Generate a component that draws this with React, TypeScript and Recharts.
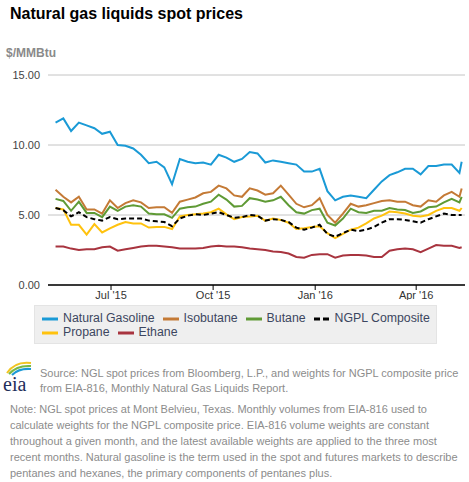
import { LineChart, Line, XAxis, YAxis, CartesianGrid } from 'recharts';

// day offsets counted from 2015-05-01
const DAYS = [11, 18, 25, 32, 39, 46, 53, 60, 67, 74, 81, 88, 95, 102, 109, 116, 123, 130, 137, 144, 151, 158, 165, 172, 179, 186, 193, 200, 207, 214, 221, 228, 235, 242, 249, 256, 263, 270, 277, 284, 291, 298, 305, 312, 319, 326, 333, 340, 347, 354, 361, 368, 375, 377];

const NATURAL_GASOLINE = [11.6, 11.9, 11.0, 11.6, 11.4, 11.2, 10.8, 10.95, 10.0, 9.95, 9.75, 9.3, 8.7, 8.8, 8.4, 7.2, 9.0, 8.8, 8.7, 8.75, 8.6, 9.3, 9.1, 8.8, 9.0, 9.5, 9.4, 8.75, 8.9, 8.8, 8.7, 8.6, 8.1, 8.1, 8.3, 6.7, 6.05, 6.3, 6.4, 6.3, 6.2, 6.8, 7.4, 7.85, 8.05, 8.3, 8.3, 7.9, 8.5, 8.5, 8.6, 8.6, 8.0, 8.8];
const ISOBUTANE = [6.8, 6.3, 5.9, 6.3, 5.4, 5.4, 5.1, 6.05, 5.5, 5.85, 6.05, 5.9, 5.5, 5.55, 5.55, 5.15, 5.95, 6.1, 6.25, 6.55, 6.65, 7.1, 6.9, 6.4, 6.3, 6.9, 6.75, 6.45, 6.55, 7.1, 6.45, 5.8, 5.55, 5.7, 6.2, 5.0, 4.45, 5.1, 5.8, 5.6, 5.7, 5.85, 6.0, 6.05, 5.95, 5.95, 5.7, 5.6, 6.05, 5.95, 6.4, 6.65, 6.3, 6.9];
const BUTANE = [6.15, 6.0, 5.3, 5.95, 5.15, 5.15, 4.85, 5.6, 5.3, 5.6, 5.7, 5.6, 5.1, 5.05, 5.05, 4.8, 5.45, 5.55, 5.6, 5.8, 5.95, 6.45, 6.1, 5.6, 5.65, 6.2, 6.1, 5.95, 6.05, 6.3, 5.7, 5.2, 5.1, 5.35, 5.45, 4.45, 4.25, 4.75, 5.45, 5.2, 5.15, 5.3, 5.3, 5.5, 5.4, 5.35, 5.15, 5.25, 5.55, 5.6, 5.9, 6.15, 5.9, 6.3];
const NGPL_COMPOSITE = [5.5, 5.35, 4.9, 5.2, 4.85, 4.7, 4.6, 4.85, 4.7, 4.75, 4.75, 4.75, 4.6, 4.55, 4.5, 4.2, 4.75, 4.95, 5.05, 5.0, 5.1, 5.2, 5.0, 4.8, 4.85, 5.0, 4.95, 4.6, 4.7, 4.65, 4.5, 4.1, 3.95, 4.1, 4.3, 3.65, 3.45, 3.7, 3.95, 3.85, 3.95, 4.15, 4.45, 4.7, 4.7, 4.65, 4.55, 4.45, 4.7, 4.9, 5.1, 5.0, 5.0, 5.0];
const PROPANE = [5.5, 5.4, 4.3, 4.3, 3.6, 4.35, 3.75, 4.05, 4.3, 4.5, 4.4, 4.4, 4.1, 4.15, 4.15, 4.0, 4.9, 5.0, 5.05, 5.1, 5.2, 5.45, 5.05, 4.7, 4.85, 4.9, 4.95, 4.6, 4.75, 4.65, 4.45, 4.0, 4.05, 4.15, 4.2, 3.7, 3.35, 3.65, 3.95, 4.1, 4.4, 4.75, 4.95, 5.25, 5.2, 5.1, 4.95, 4.9, 5.0, 5.3, 5.5, 5.5, 5.3, 5.5];
const ETHANE = [2.75, 2.75, 2.6, 2.5, 2.55, 2.55, 2.7, 2.75, 2.45, 2.55, 2.65, 2.75, 2.8, 2.8, 2.75, 2.7, 2.6, 2.6, 2.6, 2.65, 2.75, 2.8, 2.75, 2.75, 2.7, 2.6, 2.55, 2.5, 2.4, 2.35, 2.25, 2.0, 1.95, 2.15, 2.2, 2.2, 1.95, 2.1, 2.15, 2.15, 2.1, 2.0, 2.0, 2.45, 2.55, 2.6, 2.55, 2.35, 2.6, 2.85, 2.8, 2.8, 2.65, 2.7];

const X_TICKS = [61, 153, 245, 336];
const X_TICK_LABELS = ["Jul '15", "Oct '15", "Jan '16", "Apr '16"];
const Y_TICKS = [0, 5, 10, 15];

const SERIES = [
  { key: 'gasoline', name: 'Natural Gasoline', color: '#1a9ad6', values: NATURAL_GASOLINE, dashed: false },
  { key: 'isobutane', name: 'Isobutane', color: '#c47a36', values: ISOBUTANE, dashed: false },
  { key: 'butane', name: 'Butane', color: '#5f9a35', values: BUTANE, dashed: false },
  { key: 'ngpl', name: 'NGPL Composite', color: '#000000', values: NGPL_COMPOSITE, dashed: true },
  { key: 'propane', name: 'Propane', color: '#ffc20e', values: PROPANE, dashed: false },
  { key: 'ethane', name: 'Ethane', color: '#a8343f', values: ETHANE, dashed: false },
];

// drawing order: propane under the dashed composite
const DRAW_ORDER = ['ethane', 'gasoline', 'isobutane', 'butane', 'propane', 'ngpl'];
const LEGEND_ROWS = [
  ['gasoline', 'isobutane', 'butane', 'ngpl'],
  ['propane', 'ethane'],
];

const data = DAYS.map((d, i) => {
  const row: Record<string, number> = { day: d };
  SERIES.forEach((s) => (row[s.key] = s.values[i]));
  return row;
});

const FONT = '"Liberation Sans", Arial, sans-serif';

function Swatch({ color, dashed }: { color: string; dashed: boolean }) {
  return (
    <svg width={16} height={4} style={{ marginRight: 5, verticalAlign: 'middle' }}>
      <line x1={0} y1={2} x2={16} y2={2} stroke={color} strokeWidth={3} strokeDasharray={dashed ? '6 3' : undefined} />
    </svg>
  );
}

function EiaLogo() {
  return (
    <svg width={34} height={40} style={{ position: 'absolute', left: 1, top: 357 }}>
      <path d="M6 16 Q14 4 30 6" stroke="#f2c522" strokeWidth={2} fill="none" />
      <path d="M8 17 Q16 8 30 9" stroke="#79b845" strokeWidth={2} fill="none" />
      <path d="M11 18 Q18 11 30 12" stroke="#1d9ad6" strokeWidth={2} fill="none" />
      <text x={2} y={34} fontFamily="'Liberation Serif', serif" fontSize={20} fill="#1f2d5a">eia</text>
    </svg>
  );
}

export default function App() {
  const byKey = Object.fromEntries(SERIES.map((s) => [s.key, s]));
  return (
    <div style={{ position: 'absolute', left: 0, top: 0, width: 469, height: 482, background: '#fff', fontFamily: FONT }}>
      <div style={{ position: 'absolute', left: 10, top: 5, fontSize: 16, fontWeight: 'bold', color: '#000' }}>
        Natural gas liquids spot prices
      </div>
      <div style={{ position: 'absolute', left: 6, top: 46, fontSize: 12, fontWeight: 'bold', color: '#8a8a8a' }}>
        $/MMBtu
      </div>

      <div style={{ position: 'absolute', left: 0, top: 0 }}>
        <LineChart width={469} height={300} data={data} margin={{ top: 75, right: 4, bottom: 0, left: 8 }}>
          <CartesianGrid vertical={false} stroke="#c4c4c4" strokeWidth={1} />
          <XAxis
            dataKey="day"
            type="number"
            domain={[4.2, 380]}
            ticks={X_TICKS}
            tickFormatter={(v: number) => X_TICK_LABELS[X_TICKS.indexOf(v)]}
            height={15}
            tickSize={5}
            tickMargin={1}
            axisLine={{ stroke: '#000', strokeWidth: 1.5 }}
            tickLine={{ stroke: '#000' }}
            tick={{ fill: '#333', fontSize: 11 }}
            allowDataOverflow
          />
          <YAxis
            domain={[0, 15]}
            ticks={Y_TICKS}
            width={40}
            axisLine={false}
            tickLine={false}
            tickSize={6}
            tickMargin={2}
            tickFormatter={(v: number) => v.toFixed(2)}
            tick={{ fill: '#444', fontSize: 11 }}
          />
          {DRAW_ORDER.map((k) => {
            const s = byKey[k];
            return (
              <Line
                key={k}
                dataKey={k}
                type="linear"
                stroke={s.color}
                strokeWidth={2}
                strokeDasharray={s.dashed ? '5 3' : undefined}
                dot={false}
                activeDot={false}
                isAnimationActive={false}
              />
            );
          })}
        </LineChart>
      </div>

      <div
        style={{
          position: 'absolute',
          left: 34,
          top: 305,
          width: 403,
          height: 39,
          boxSizing: 'border-box',
          padding: '5px 7px',
          background: '#efefef',
          border: '1px solid #e4e4e4',
          fontSize: 12.3,
          lineHeight: '14px',
          color: '#3c4660',
        }}
      >
        {LEGEND_ROWS.map((row, ri) => (
          <div key={ri} style={{ whiteSpace: 'nowrap' }}>
            {row.map((k) => (
              <span key={k} style={{ marginRight: 8 }}>
                <Swatch color={byKey[k].color} dashed={byKey[k].dashed} />
                {byKey[k].name}
              </span>
            ))}
          </div>
        ))}
      </div>

      <EiaLogo />
      <div style={{ position: 'absolute', left: 40, top: 366, fontSize: 11, lineHeight: '15px', color: '#8c8c8c' }}>
        <div>Source: NGL spot prices from Bloomberg, L.P., and weights for NGPL composite price</div>
        <div>from EIA-816, Monthly Natural Gas Liquids Report.</div>
      </div>
      <div style={{ position: 'absolute', left: 10, top: 401, fontSize: 11, lineHeight: '16px', color: '#8c8c8c' }}>
        <div>Note: NGL spot prices at Mont Belvieu, Texas. Monthly volumes from EIA-816 used to</div>
        <div>calculate weights for the NGPL composite price. EIA-816 volume weights are constant</div>
        <div>throughout a given month, and the latest available weights are applied to the three most</div>
        <div>recent months. Natural gasoline is the term used in the spot and futures markets to describe</div>
        <div>pentanes and hexanes, the primary components of pentanes plus.</div>
      </div>
    </div>
  );
}
